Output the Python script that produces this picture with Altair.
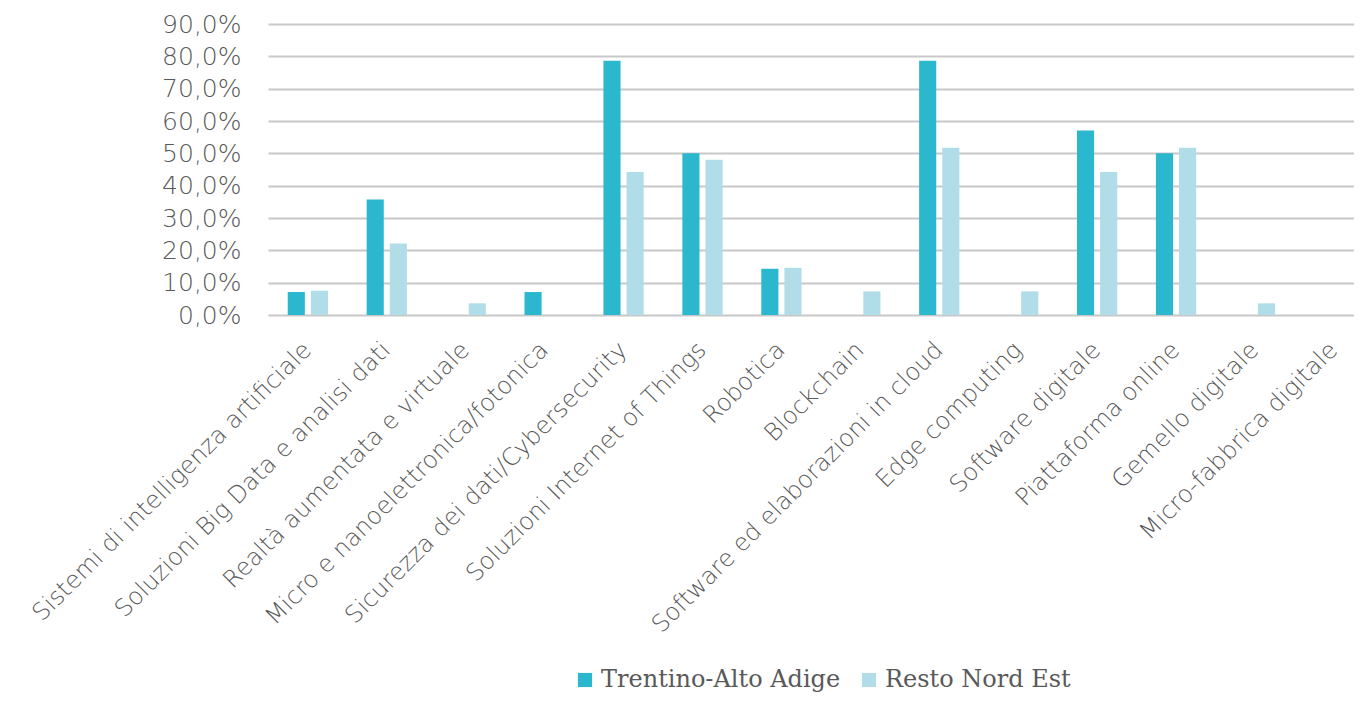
import altair as alt
import pandas as pd

categories = [
    "Sistemi di intelligenza artificiale",
    "Soluzioni Big Data e analisi dati",
    "Realtà aumentata e virtuale",
    "Micro e nanoelettronica/fotonica",
    "Sicurezza dei dati/Cybersecurity",
    "Soluzioni Internet of Things",
    "Robotica",
    "Blockchain",
    "Software ed elaborazioni in cloud",
    "Edge computing",
    "Software digitale",
    "Piattaforma online",
    "Gemello digitale",
    "Micro-fabbrica digitale",
]
series = ["Trentino-Alto Adige", "Resto Nord Est"]
trentino = [0.071, 0.357, 0.0, 0.071, 0.786, 0.500, 0.143, 0.0, 0.786, 0.0, 0.571, 0.500, 0.0, 0.0]
resto = [0.075, 0.221, 0.036, 0.0, 0.442, 0.480, 0.146, 0.073, 0.517, 0.073, 0.442, 0.517, 0.036, 0.0]
colors = ["#2BB8CE", "#B1DDE8"]
y_ticks = [0.0, 0.1, 0.2, 0.3, 0.4, 0.5, 0.6, 0.7, 0.8, 0.9]

rows = []
for c, t, r in zip(categories, trentino, resto):
    rows.append({"cat": c, "series": series[0], "value": t})
    rows.append({"cat": c, "series": series[1], "value": r})
df = pd.DataFrame(rows)

FONT = "DejaVu Sans"
GREY = "#595959"

chart = alt.Chart(df).mark_bar().encode(
    x=alt.X(
        "cat:N",
        sort=categories,
        scale=alt.Scale(paddingInner=0.49, paddingOuter=0.125, align=1),
        axis=alt.Axis(
            title=None,
            labelAngle=-45,
            labelAlign="right",
            labelBaseline="middle",
            labelFontSize=24,
            labelFont=FONT,
            labelFontWeight=300,
            labelColor=GREY,
            labelPadding=31,
            labelLimit=700,
            domain=False,
            ticks=False,
        ),
    ),
    xOffset=alt.XOffset(
        "series:N", sort=series, scale=alt.Scale(paddingInner=0.26, paddingOuter=0)
    ),
    y=alt.Y(
        "value:Q",
        scale=alt.Scale(domain=[0, 0.9], nice=False),
        axis=alt.Axis(
            title=None,
            values=y_ticks,
            labelExpr="replace(format(datum.value, '.1%'), '.', ',')",
            grid=True,
            gridColor="#C8C8C8",
            gridWidth=2,
            domain=False,
            ticks=False,
            labelFontSize=25,
            labelFont=FONT,
            labelFontWeight=300,
            labelColor=GREY,
            labelPadding=27,
        ),
    ),
    color=alt.Color(
        "series:N",
        sort=series,
        scale=alt.Scale(domain=series, range=colors),
        legend=alt.Legend(
            orient="none",
            legendX=305,
            legendY=644,
            direction="horizontal",
            title=None,
            symbolType="square",
            symbolSize=200,
            symbolStrokeWidth=0,
            labelFontSize=24,
            labelFont="DejaVu Serif",
            labelColor=GREY,
            labelLimit=400,
            columnPadding=16,
        ),
    ),
).properties(
    width=1086,
    height=291,
    padding={"left": 260, "top": 16, "right": 0, "bottom": 378},
    autosize="none",
).configure_view(stroke=None)

chart.save("out.html", embed_options={"renderer": "svg", "actions": False})
